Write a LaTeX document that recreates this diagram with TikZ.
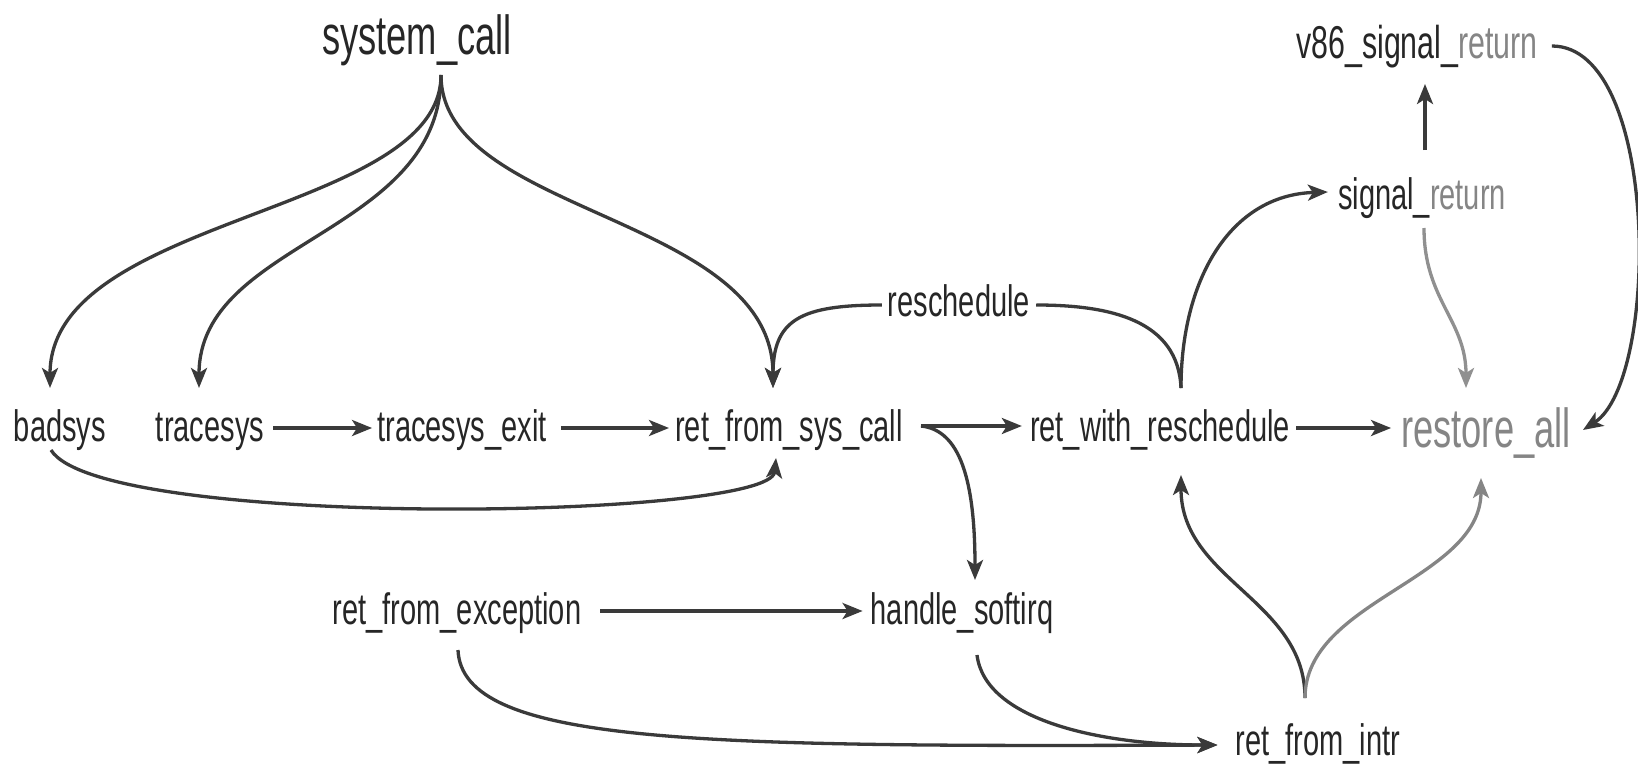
\documentclass[tikz,border=0pt]{standalone}
\usepackage{fontspec}
\setmainfont[FakeStretch=0.66]{Liberation Sans}
\usetikzlibrary{arrows.meta,calc}
\definecolor{txt}{HTML}{262626}
\definecolor{ln}{HTML}{3A3A3A}
\definecolor{lt}{HTML}{858585}
\definecolor{lt2}{HTML}{909090}
\begin{document}
\begin{tikzpicture}[x=1pt,y=-1pt,
  lbl/.style={anchor=base,inner sep=0pt,text=txt,font=\fontsize{44}{50}\selectfont},
  big/.style={font=\fontsize{55}{60}\selectfont},
  mid/.style={font=\fontsize{46}{52}\selectfont},
  conn/.style={draw=ln,line width=3.3pt,-{Stealth[length=20pt,width=16pt,inset=5pt]}},
  plain/.style={draw=ln,line width=3.3pt},
  light/.style={draw=lt2},
  lighter/.style={draw=lt}]
\useasboundingbox[fill=white] (0,0) rectangle (1638,763);
% nodes
\node[lbl,big] (sys) at (417,54) {system\_call};
\node[lbl] (badsys) at (60,441) {badsys};
\node[lbl] (tracesys) at (210,441) {tracesys};
\node[lbl] (texit) at (462,441) {tracesys\_exit};
\node[lbl] (rfsc) at (789,441) {ret\_from\_sys\_call};
\node[lbl] (rwr) at (1160,441) {ret\_with\_reschedule};
\node[lbl,big,text=lt] (rall) at (1486,447) {restore\_all};
\node[lbl] (resched) at (959,316) {reschedule};
\node[lbl] (sigret) at (1422,209) {signal\_\textcolor{lt}{return}};
\node[lbl,mid] (v86) at (1417,58) {v86\_signal\_\textcolor{lt}{return}};
\node[lbl] (rfe) at (457,624) {ret\_from\_exception};
\node[lbl] (hsoft) at (962,624) {handle\_softirq};
\node[lbl] (rfi) at (1318,755) {ret\_from\_intr};
% connectors from system_call
\draw[conn] ($(sys.base)+(24,21)$) .. controls (441,215) and (50,215) .. ($(badsys.base)+(-10,-53)$);
\draw[conn] ($(sys.base)+(24,21)$) .. controls (441,235) and (199,240) .. ($(tracesys.base)+(-11,-53)$);
\draw[conn] ($(sys.base)+(24,21)$) .. controls (441,215) and (773,215) .. ($(rfsc.base)+(-16,-53)$);
% row 1
\draw[conn] ($(tracesys.base east)+(9,-13)$) -- ($(texit.base west)+(-5,-13)$);
\draw[conn] ($(texit.base east)+(14,-13)$) -- ($(rfsc.base west)+(-6,-13)$);
\draw[conn] ($(badsys.base)+(-9,9)$) .. controls (100,530) and (770,520) .. ($(rfsc.base)+(-13,17)$);
\draw[conn] ($(rfsc.base east)+(18,-15)$) -- ($(rwr.base west)+(-8,-15)$);
\draw[conn] ($(rfsc.base east)+(18,-15)$) .. controls (960,430) and (975,480) .. ($(hsoft.base)+(13,-44)$);
% reschedule loop
\draw[conn] ($(resched.base west)+(-6,-11)$) .. controls (800,305) and (773,320) .. ($(rfsc.base)+(-16,-53)$);
\draw[plain] ($(rwr.base)+(21,-53)$) .. controls (1178,320) and (1110,305) .. ($(resched.base east)+(6,-11)$);
\draw[conn] ($(rwr.base)+(21,-53)$) .. controls (1181,280) and (1230,195) .. ($(sigret.base west)+(-10,-17)$);
\draw[conn] ($(sigret.base)+(3,-59)$) -- ($(v86.base)+(8,26)$);
\draw[conn,light] ($(sigret.base)+(2,19)$) .. controls (1424,300) and (1466,320) .. ($(rall.base)+(-20,-59)$);
\draw[conn] ($(v86.base east)+(14,-12)$) .. controls (1660,46) and (1660,380) .. ($(rall.base east)+(12,-17)$);
\draw[conn] ($(rwr.base east)+(6,-13)$) -- ($(rall.base west)+(-10,-19)$);
% bottom
\draw[conn] ($(rfe.base east)+(19,-13)$) -- ($(hsoft.base west)+(-8,-13)$);
\draw[conn] ($(rfe.base)+(1,26)$) .. controls (462,745) and (700,747) .. ($(rfi.base west)+(-18,-10)$);
\draw[conn] ($(hsoft.base)+(15,31)$) .. controls (985,720) and (1100,745) .. ($(rfi.base west)+(-18,-10)$);
\draw[conn] ($(rfi.base)+(-13,-57)$) .. controls (1305,600) and (1181,580) .. ($(rwr.base)+(21,34)$);
\draw[conn,lighter] ($(rfi.base)+(-13,-57)$) .. controls (1305,600) and (1481,580) .. ($(rall.base)+(-5,31)$);
\end{tikzpicture}
\end{document}
